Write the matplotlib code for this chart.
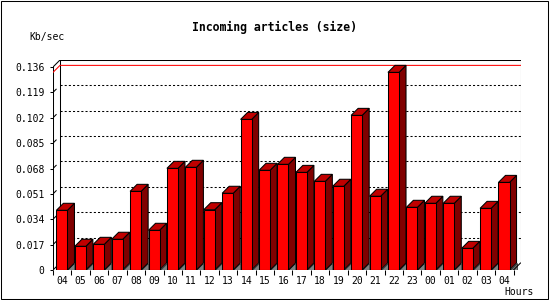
import matplotlib.pyplot as plt
from matplotlib.patches import Polygon, Rectangle

# data
hours = ['04', '05', '06', '07', '08', '09', '10', '11', '12', '13', '14', '15', '16',
         '17', '18', '19', '20', '21', '22', '23', '00', '01', '02', '03', '04']
kbsec = [0.0400, 0.0159, 0.0172, 0.0206, 0.0527, 0.0266, 0.0681, 0.0688, 0.0404,
         0.0514, 0.1009, 0.0668, 0.0708, 0.0654, 0.0594, 0.0561, 0.1036, 0.0494,
         0.1324, 0.0420, 0.0447, 0.0447, 0.0145, 0.0413, 0.0587]
yticks = [0, 0.017, 0.034, 0.051, 0.068, 0.085, 0.102, 0.119, 0.136]

n = len(hours)
dx = 0.38       # depth offset in slots
dy = 0.00469    # depth offset in value units
ytop = yticks[-1]
lw = 0.75

fig = plt.figure(figsize=(5.5, 3), dpi=100)
# outer frame
fig.patches.append(Rectangle((0.5 / 550, 1.5 / 300), 547 / 550, 298 / 300,
                             transform=fig.transFigure, fill=False,
                             edgecolor='black', linewidth=lw))

ax = fig.add_axes([53 / 550, 30 / 300, 467.5 / 550, 210 / 300])
ax.set_xlim(0, n + dx)
ax.set_ylim(0, ytop + dy)
for s in ax.spines.values():
    s.set_visible(False)

# walls and floor outline
ax.plot([0, 0], [0, ytop], color='black', lw=lw)
ax.plot([0, dx], [ytop, ytop + dy], color='black', lw=lw)
ax.plot([dx, dx], [dy, ytop + dy], color='black', lw=lw)
ax.plot([dx, n + dx], [ytop + dy, ytop + dy], color='black', lw=lw)
ax.plot([n + dx, n + dx], [dy, ytop + dy], color='black', lw=lw)
ax.plot([0, n], [0, 0], color='black', lw=lw, zorder=5)
ax.plot([n, n + dx], [0, dy], color='black', lw=lw, zorder=5)
ax.plot([0, dx], [0, dy], color='black', lw=lw)

# grid lines on the back wall
for v in yticks[1:-1]:
    ax.plot([0, dx * 0.45], [v, v + dy * 0.45], color='black', lw=lw)
    ax.plot([dx, n + dx], [v + dy, v + dy], color='black', lw=lw,
            linestyle=(0, (2, 2)))

# max line
vmax = max(kbsec)
ax.plot([0, dx, n + dx], [vmax, vmax + dy, vmax + dy], color='red', lw=lw)

# 3d bars
for i, v in enumerate(kbsec):
    x0 = i + 0.185
    x1 = x0 + 0.6
    ax.add_patch(Polygon([(x1, 0), (x1 + dx, 0), (x1 + dx, dy)], closed=True,
                         facecolor='#808080', edgecolor='black', lw=0.4, zorder=3))
    ax.add_patch(Polygon([(x1, 0), (x1 + dx, dy), (x1 + dx, v + dy), (x1, v)], closed=True,
                         facecolor='#800000', edgecolor='black', lw=lw, zorder=3))
    ax.add_patch(Polygon([(x0, v), (x1, v), (x1 + dx, v + dy), (x0 + dx, v + dy)], closed=True,
                         facecolor='#c00000', edgecolor='black', lw=lw, zorder=3))
    ax.add_patch(Polygon([(x0, 0), (x1, 0), (x1, v), (x0, v)], closed=True,
                         facecolor='#ff0000', edgecolor='black', lw=lw, zorder=4))

# ticks
ax.set_yticks(yticks)
ax.set_yticklabels(['0' if t == 0 else f'{t:.3f}' for t in yticks])
ax.tick_params(axis='y', length=2.5, width=lw, pad=3.5, labelsize=7)
ax.set_xticks(range(n + 1))
ax.set_xticklabels([])
ax.set_xticks([i + 0.5 for i in range(n)], minor=True)
ax.set_xticklabels(hours, minor=True)
ax.tick_params(axis='x', which='major', length=3.6, width=lw)
ax.tick_params(axis='x', which='minor', length=0, pad=4, labelsize=7)
for lab in ax.get_xticklabels(minor=True) + ax.get_yticklabels():
    lab.set_family('DejaVu Sans Mono')

fig.text(274 / 550, 1 - 27 / 300, 'Incoming articles (size)', ha='center', va='center',
         fontsize=8.3, fontweight='bold', family='DejaVu Sans Mono')
fig.text(29 / 550, 1 - 37 / 300, 'Kb/sec', ha='left', va='center',
         fontsize=7, family='DejaVu Sans Mono')
fig.text(504 / 550, 1 - 292 / 300, 'Hours', ha='left', va='center',
         fontsize=7, family='DejaVu Sans Mono')

fig.savefig('out.png', dpi=100)
